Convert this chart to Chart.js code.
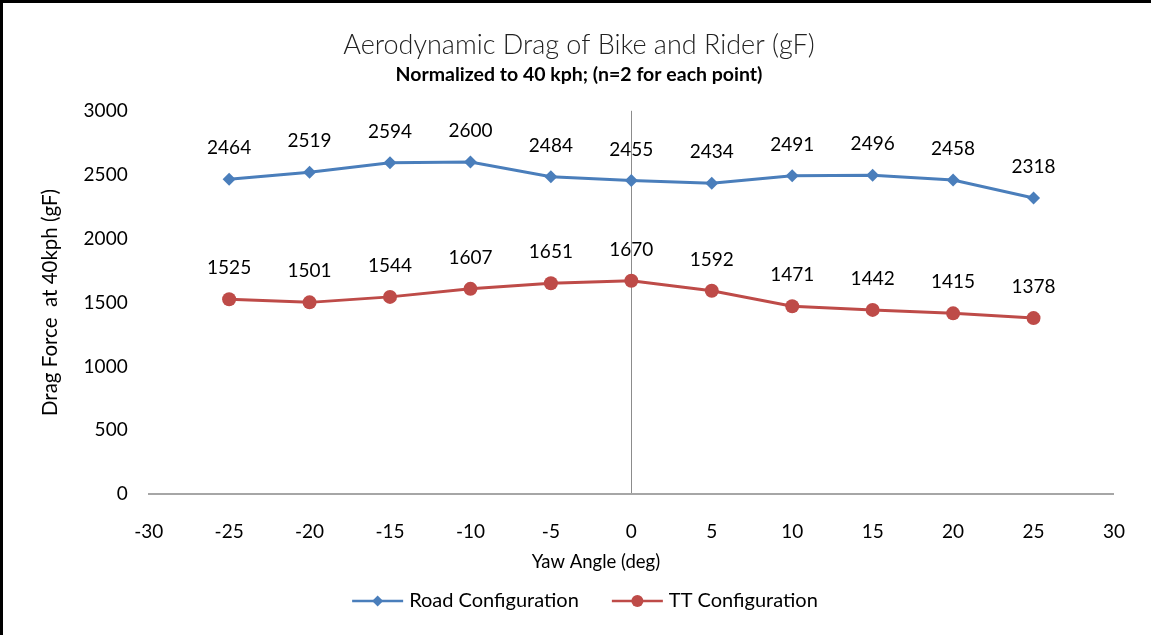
<!DOCTYPE html>
<html>
<head>
<meta charset="utf-8">
<script src="https://cdn.jsdelivr.net/npm/chart.js@4"></script>
<style>
    body { margin: 0; background: #fff; }
    #wrap {
        position: relative;
        width: 1151px;
        height: 635px;
        overflow: hidden;
    }
    #frame {
        position: absolute;
        left: 0; top: 0;
        width: 1160px; height: 650px;
        border-left: 3px solid #000;
        border-top: 3px solid #000;
        box-sizing: border-box;
        pointer-events: none;
    }
</style>
</head>
<body>
<div id="wrap">
    <canvas id="dragChart" width="1151" height="635"></canvas>
    <div id="frame"></div>
</div>
<script>
// Chart data
const yawAngles = [-25, -20, -15, -10, -5, 0, 5, 10, 15, 20, 25];
const roadDrag = [2464, 2519, 2594, 2600, 2484, 2455, 2434, 2491, 2496, 2458, 2318];
const ttDrag = [1525, 1501, 1544, 1607, 1651, 1670, 1592, 1471, 1442, 1415, 1378];
const seriesNames = ['Road Configuration', 'TT Configuration'];

const FONT = 'Lato, "Open Sans", sans-serif';
const BLUE = '#4A7EBB';
const RED = '#BE4B48';

// Value labels above each point
const valueLabels = {
    id: 'valueLabels',
    afterDatasetsDraw(chart) {
        const ctx = chart.ctx;
        ctx.save();
        ctx.font = '19px ' + FONT;
        ctx.fillStyle = '#000';
        ctx.textAlign = 'center';
        ctx.textBaseline = 'middle';
        chart.data.datasets.forEach((ds, i) => {
            chart.getDatasetMeta(i).data.forEach((pt, j) => {
                ctx.fillText(ds.data[j].y, pt.x, pt.y - 31);
            });
        });
        ctx.restore();
    }
};

// Excel style legend (line with marker) and the x axis title, which sits
// a little left of the plot centre in the original
const lineLegend = {
    id: 'lineLegend',
    afterDraw(chart) {
        const ctx = chart.ctx;
        ctx.save();
        ctx.fillStyle = '#000';
        ctx.textBaseline = 'middle';
        ctx.textAlign = 'center';
        ctx.font = '18.5px ' + FONT;
        ctx.fillText('Yaw Angle (deg)', 596, 562);

        const y = 601;
        const symW = 51, gap = 6, itemGap = 33;
        ctx.textAlign = 'left';
        ctx.font = '20px ' + FONT;
        const widths = seriesNames.map(n => ctx.measureText(n).width);
        const total = widths.reduce((a, w) => a + symW + gap + w, 0) + itemGap;
        let x = 585 - total / 2;
        chart.data.datasets.forEach((ds, i) => {
            ctx.strokeStyle = ds.borderColor;
            ctx.fillStyle = ds.borderColor;
            ctx.lineWidth = 2.5;
            ctx.beginPath();
            ctx.moveTo(x, y);
            ctx.lineTo(x + symW, y);
            ctx.stroke();
            const cx = x + symW / 2;
            ctx.beginPath();
            if (ds.pointStyle === 'rectRot') {
                ctx.moveTo(cx, y - 5.5);
                ctx.lineTo(cx + 5.5, y);
                ctx.lineTo(cx, y + 5.5);
                ctx.lineTo(cx - 5.5, y);
            } else {
                ctx.arc(cx, y, 6, 0, Math.PI * 2);
            }
            ctx.closePath();
            ctx.fill();
            ctx.fillStyle = '#000';
            ctx.fillText(seriesNames[i], x + symW + gap, y);
            x += symW + gap + widths[i] + itemGap;
        });
        ctx.restore();
    }
};

const ctx = document.getElementById('dragChart').getContext('2d');
new Chart(ctx, {
    type: 'line',
    data: {
        datasets: [{
            label: seriesNames[0],
            data: yawAngles.map((x, i) => ({ x: x, y: roadDrag[i] })),
            borderColor: BLUE,
            backgroundColor: BLUE,
            borderWidth: 3,
            pointStyle: 'rectRot',
            pointRadius: 6.5,
            pointBorderWidth: 0,
            tension: 0
        }, {
            label: seriesNames[1],
            data: yawAngles.map((x, i) => ({ x: x, y: ttDrag[i] })),
            borderColor: RED,
            backgroundColor: RED,
            borderWidth: 3,
            pointStyle: 'circle',
            pointRadius: 7,
            pointBorderWidth: 0,
            tension: 0
        }]
    },
    options: {
        responsive: false,
        animation: false,
        layout: {
            padding: { left: 38, right: 31, top: 20, bottom: 66 }
        },
        plugins: {
            title: {
                display: true,
                text: 'Aerodynamic Drag of Bike and Rider (gF)',
                color: '#222',
                font: { family: FONT, size: 27, weight: '300' },
                padding: { top: 9, bottom: 2 }
            },
            subtitle: {
                display: true,
                text: 'Normalized to 40 kph; (n=2 for each point)',
                color: '#000',
                font: { family: FONT, size: 19.5, weight: 'bold' },
                padding: { top: 0, bottom: 24 }
            },
            legend: { display: false },
            tooltip: { enabled: false }
        },
        scales: {
            x: {
                type: 'linear',
                min: -30,
                max: 30,
                ticks: {
                    stepSize: 5,
                    color: '#000',
                    font: { family: FONT, size: 19 },
                    padding: 26
                },
                grid: {
                    drawTicks: false,
                    color: (c) => c.tick && c.tick.value === 0 ? '#8c8c8c' : 'rgba(0,0,0,0)',
                    lineWidth: 1
                },
                border: { display: true, color: '#a6a6a6', width: 2 }
            },
            y: {
                min: 0,
                max: 3000,
                ticks: {
                    stepSize: 500,
                    color: '#000',
                    font: { family: FONT, size: 19 },
                    padding: 21,
                    callback: (v) => String(v)
                },
                grid: { display: false, drawTicks: false },
                border: { display: false },
                title: {
                    display: true,
                    text: 'Drag Force  at 40kph (gF)',
                    color: '#000',
                    font: { family: FONT, size: 20.5 },
                    padding: { top: 0, bottom: 0 }
                }
            }
        }
    },
    plugins: [valueLabels, lineLegend]
});
</script>
</body>
</html>
